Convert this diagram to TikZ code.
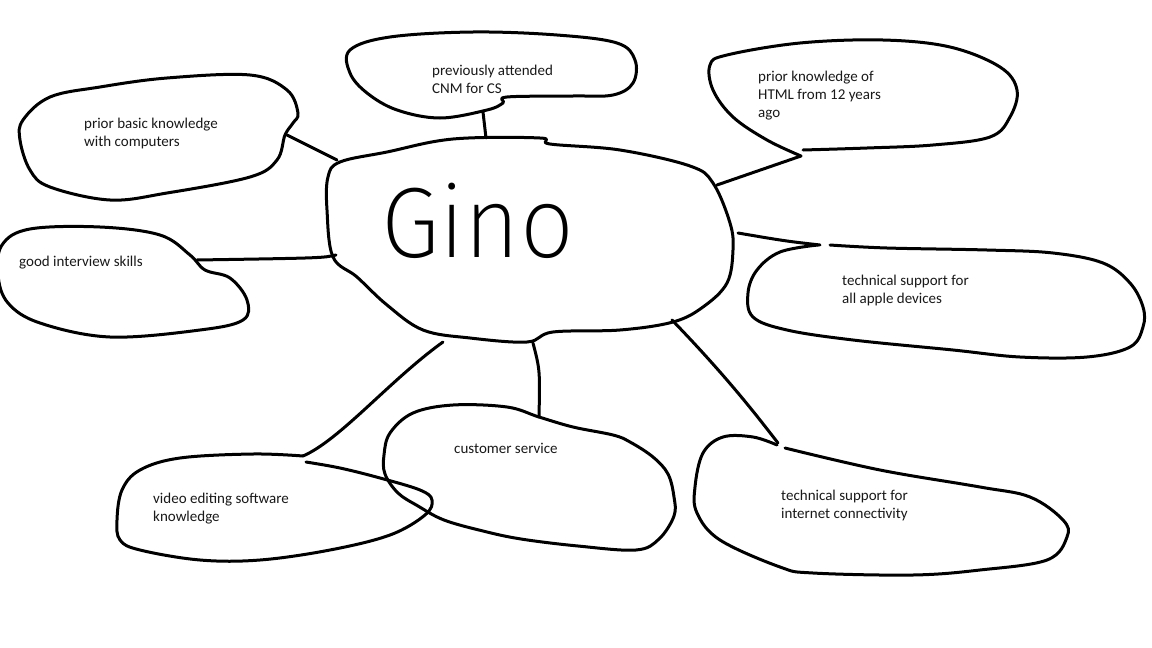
\documentclass[tikz,border=0pt]{standalone}
\usepackage{fontspec}
\setmainfont{Carlito}
\IfFontExistsTF{Fira Sans ExtraLight}{\newfontfamily\ginofont{Fira Sans ExtraLight}}{%
  \IfFontExistsTF{Fira Sans Thin}{\newfontfamily\ginofont{Fira Sans Thin}}{\newfontfamily\ginofont{Fira Sans Light}}}
\tikzset{
  ink/.style={line width=3pt, line cap=round, line join=round, draw=black},
  txt/.style={font=\fontsize{15}{18}\selectfont, align=left, inner sep=0pt, anchor=base west, text=black!90},
  bigname/.style={font=\ginofont\fontsize{100}{100}\selectfont, inner sep=0pt, anchor=base west, xscale=0.95},
}
\begin{document}
\begin{tikzpicture}[x=1pt,y=-1pt]
\fill[white] (0,0) rectangle (1152,648);
\useasboundingbox (0,0) rectangle (1152,648);

% central blob
\draw[ink] plot[smooth cycle, tension=0.6] coordinates {(340,162) (387,152) (453,139) (540,138) (550,144) (620,150) (690,166) (713,183) (730,223) (733,250) (727,283) (703,307) (673,322) (620,330) (553,332) (527,342) (470,338) (423,330) (387,305) (357,277) (333,257) (327,210) (328,177)};
\node[bigname] (gino) at (381,257) {Gino};

% connector end points on the central blob
\coordinate (m1) at (337,160);
\coordinate (m2) at (336,255);
\coordinate (m3) at (486,138);
\coordinate (m4) at (717,185);
\coordinate (m5) at (738,233);
\coordinate (m6) at (672,320);
\coordinate (m7) at (533,343);
\coordinate (m8) at (443,342);
% connector end points on the bubbles
\coordinate (e1) at (287,135);
\coordinate (e2) at (197,260);
\coordinate (e3) at (483,112);
\coordinate (e4) at (801,156);
\coordinate (e5) at (820,245);
\coordinate (e6) at (778,443);
\coordinate (e7) at (539,417);
\coordinate (e8) at (303,456);

% bubble 1: prior basic knowledge
\draw[ink] plot[smooth cycle, tension=0.6] coordinates {(23,120) (50,97) (100,87) (167,78) (250,75) (287,90) (298,113) (293,123) (285,135) (277,160) (250,177) (167,193) (110,200) (50,187) (30,170) (20,140)};
\node[txt] (t1) at (84,146) {prior basic knowledge\\with computers};

% bubble 2: good interview skills
\draw[ink] plot[smooth cycle, tension=0.6] coordinates {(2,245) (30,229) (100,227) (160,235) (190,255) (205,270) (230,278) (247,300) (243,320) (200,330) (110,337) (40,323) (8,303) (-2,275)};
\node[txt] (t2) at (19,266) {good interview skills};

% bubble 3: previously attended
\draw[ink] plot[smooth cycle, tension=0.6] coordinates {(350,50) (390,37) (473,32) (557,35) (617,43) (635,60) (633,83) (613,95) (573,96) (507,97) (503,103) (487,110) (440,118) (397,110) (367,93) (350,73)};
\node[txt] (t3) at (432,93) {previously attended\\CNM for CS};

% bubble 4: HTML
\draw[ink] plot[smooth, tension=0.6] coordinates {(803,150) (867,148) (933,145) (990,137) (1010,117) (1017,90) (1000,67) (950,47) (883,40) (800,43) (727,55) (710,65) (713,90) (733,117) (767,140) (801,156)};
\node[txt] (t4) at (758,117) {prior knowledge of\\HTML from 12 years\\ago};

% bubble 5: apple devices
\draw[ink] plot[smooth, tension=0.6] coordinates {(830,245) (887,248) (987,250) (1053,253) (1103,263) (1130,283) (1143,307) (1143,327) (1130,347) (1087,357) (1020,357) (953,350) (853,340) (787,330) (753,317) (748,293) (757,270) (780,252) (818,245)};
\node[txt] (t5) at (842,303) {technical support for\\all apple devices};

% bubble 6: internet connectivity
\draw[ink] plot[smooth, tension=0.6] coordinates {(785,448) (880,470) (980,487) (1030,497) (1063,520) (1067,537) (1047,560) (980,570) (913,575) (813,573) (780,567) (720,540) (697,513) (695,487) (703,453) (723,437) (753,437) (777,445)};
\node[txt] (t6) at (781,518) {technical support for\\internet connectivity};

% bubble 7: customer service
\draw[ink] plot[smooth cycle, tension=0.6] coordinates {(539,417) (573,427) (613,435) (630,442) (653,457) (668,474) (674,497) (674,516) (659,539) (636,550) (578,546) (521,539) (483,531) (444,520) (418,506) (398,493) (385,474) (384,455) (390,433) (413,413) (453,405) (507,407)};
\node[txt] (t7) at (454,453) {customer service};

% bubble 8: video editing
\draw[ink] plot[smooth, tension=0.6] coordinates {(303,456) (253,454) (180,458) (140,470) (122,490) (117,520) (120,540) (140,550) (200,560) (260,560) (330,550) (390,535) (425,515) (432,500) (420,490) (380,478) (340,468) (306,462)};
\node[txt] (t8) at (153,521) {video editing software\\knowledge};

% connectors
\draw[ink] (e1) -- (m1);
\draw[ink] (e2) .. controls (323,258) .. (m2);
\draw[ink] (e3) -- (m3);
\draw[ink] (e4) -- (m4);
\draw[ink] (m5) .. controls (785,241) .. (e5);
\draw[ink] (m6) .. controls (730,380) and (760,420) .. (e6);
\draw[ink] (m7) .. controls (540,370) .. (e7);
\draw[ink] (m8) .. controls (390,380) and (340,440) .. (e8);
\end{tikzpicture}
\end{document}
